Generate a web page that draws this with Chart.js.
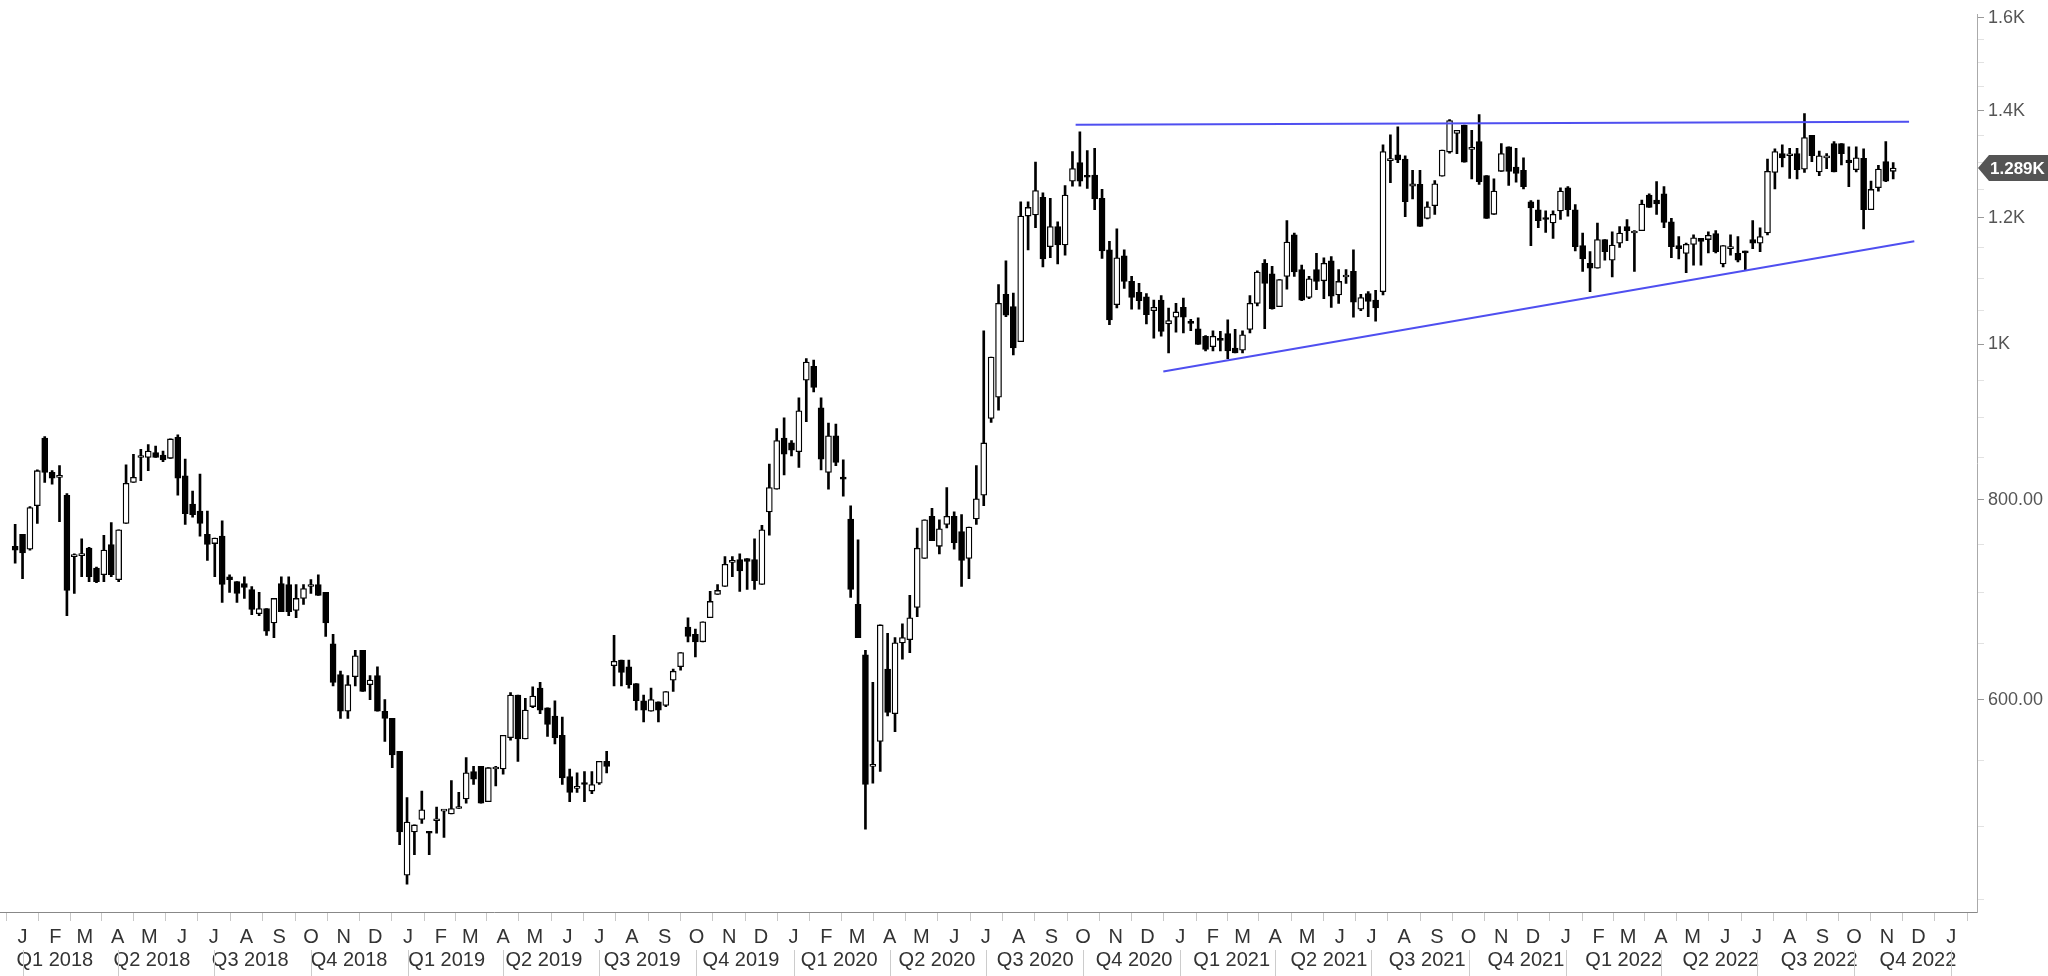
<!DOCTYPE html>
<html><head><meta charset="utf-8">
<script src="https://cdn.jsdelivr.net/npm/chart.js@4.4.1/dist/chart.umd.min.js"></script>
<style>html,body{margin:0;padding:0;background:#fff;overflow:hidden}canvas{display:block}</style>
</head><body>
<canvas id="c" width="2048" height="976"></canvas>
<script>
// Weekly candles, first week starting 2017-12-25
const firstWeek = "2017-12-25";
const open = [748,761,745,793,874,832,826,805,737,738,746,725,718,750,713,773,820,850,850,856,853,849,875,828,795,787,761,751,759,716,711,709,703,679,684,670,709,708,682,694,706,708,700,650,622,590,620,644,613,621,590,584,557,466,496,505,496,504,511,509,513,520,541,545,518,543,543,568,604,567,594,610,593,586,570,537,528,532,526,532,549,630,635,629,614,599,590,598,595,617,629,666,659,652,675,698,706,731,734,735,734,708,786,812,874,868,857,950,969,913,832,877,825,778,688,640,545,565,627,588,651,654,685,735,781,748,772,781,764,735,778,805,899,927,1075,1056,1004,1203,1205,1236,1151,1185,1154,1265,1299,1274,1276,1234,1146,1059,1136,1095,1078,1071,1050,1066,1030,1040,1055,1032,1023,1012,997,1007,1016,995,992,1022,1061,1124,1107,1056,1103,1171,1114,1070,1114,1096,1128,1074,1102,1111,1052,1076,1066,1079,1303,1314,1306,1256,1259,1199,1221,1274,1319,1355,1371,1324,1339,1275,1206,1283,1329,1291,1285,1228,1214,1198,1191,1212,1253,1214,1153,1124,1116,1163,1129,1157,1185,1174,1178,1240,1231,1242,1193,1153,1140,1155,1165,1163,1173,1123,1148,1140,1142,1163,1157,1174,1281,1316,1312,1316,1287,1351,1282,1308,1335,1335,1304,1286,1307,1214,1253,1301,1283];
const high = [772,761,792,835,876,834,840,807,740,756,747,726,760,774,766,841,854,860,866,864,858,873,878,848,810,830,787,757,776,718,711,716,706,700,684,694,716,716,708,708,713,718,700,659,625,621,644,644,621,629,600,584,557,521,501,526,496,514,512,534,525,552,545,545,544,545,570,606,604,601,611,615,593,599,585,543,540,541,541,549,557,658,635,635,614,604,610,598,607,627,642,675,664,671,701,708,737,737,740,735,756,771,842,886,900,871,926,980,978,926,893,892,847,793,755,644,615,668,660,656,669,697,768,777,790,777,814,786,783,769,840,1020,982,1090,1128,1077,1228,1228,1300,1244,1234,1193,1257,1320,1358,1322,1326,1250,1160,1181,1146,1103,1092,1076,1066,1073,1054,1061,1069,1037,1039,1013,1020,1019,1036,1022,1020,1073,1112,1130,1119,1098,1195,1174,1121,1103,1140,1133,1135,1114,1114,1146,1075,1079,1081,1333,1352,1368,1312,1285,1285,1228,1266,1323,1382,1361,1371,1361,1392,1275,1269,1335,1329,1326,1308,1230,1231,1212,1212,1253,1255,1223,1174,1143,1191,1163,1176,1185,1197,1178,1231,1242,1264,1255,1199,1168,1157,1171,1165,1176,1178,1153,1171,1168,1144,1195,1183,1306,1325,1333,1326,1326,1394,1351,1321,1316,1339,1335,1329,1329,1325,1265,1294,1339,1299];
const low = [730,714,744,773,820,818,775,677,699,716,711,710,711,716,711,773,820,822,834,850,845,849,805,772,780,759,733,716,690,700,690,694,678,677,658,656,681,677,675,688,699,697,657,612,584,584,612,607,600,590,565,544,487,460,480,502,480,495,492,509,513,517,531,517,518,530,539,566,549,567,593,588,569,563,531,518,525,518,524,531,540,612,612,610,591,581,590,581,594,607,626,652,638,652,675,698,706,716,701,703,703,708,760,812,829,852,838,895,934,835,812,840,804,695,656,498,532,541,586,573,636,642,676,735,754,740,768,745,706,714,772,793,894,910,1041,985,1004,1146,1183,1118,1133,1123,1137,1256,1256,1252,1214,1132,1029,1054,1084,1052,1052,1030,1009,1012,988,1018,1017,1020,1000,991,991,991,980,988,988,1017,1057,1023,1052,1056,1083,1103,1065,1068,1082,1068,1055,1061,1092,1040,1050,1041,1034,1074,1262,1299,1202,1233,1185,1198,1206,1274,1317,1316,1300,1269,1259,1199,1206,1283,1257,1263,1251,1153,1183,1175,1165,1197,1203,1144,1111,1079,1116,1129,1102,1150,1161,1111,1178,1218,1206,1183,1133,1131,1109,1121,1121,1141,1141,1118,1137,1126,1113,1148,1143,1171,1251,1291,1270,1269,1281,1301,1275,1288,1282,1295,1255,1282,1181,1214,1247,1264,1269];
const close = [744,741,791,834,832,825,827,702,739,739,716,711,744,718,766,819,826,851,858,850,847,873,825,784,783,773,750,757,708,713,699,705,683,684,662,694,681,681,694,704,707,697,670,615,590,613,639,607,617,590,584,554,496,503,501,512,495,505,512,513,514,540,535,517,544,544,570,604,567,591,603,591,579,568,536,525,529,531,531,549,545,634,624,613,599,591,600,591,607,625,642,657,652,671,691,702,729,732,722,732,712,766,814,871,854,859,909,975,940,848,877,844,824,703,656,531,546,668,589,651,656,675,746,777,754,767,781,752,733,769,801,868,982,1061,1043,995,1203,1218,1248,1131,1185,1154,1240,1288,1265,1272,1233,1144,1036,1133,1095,1070,1065,1044,1055,1019,1035,1048,1040,1031,1000,993,1012,1006,991,988,1014,1061,1110,1092,1053,1098,1159,1110,1066,1099,1095,1124,1072,1095,1104,1063,1070,1064,1054,1320,1305,1304,1228,1260,1185,1219,1260,1323,1380,1361,1300,1326,1264,1199,1247,1316,1283,1279,1255,1217,1195,1197,1206,1247,1214,1151,1131,1116,1163,1143,1154,1174,1178,1175,1224,1218,1224,1192,1151,1148,1155,1166,1160,1170,1143,1153,1151,1129,1141,1157,1168,1283,1320,1308,1313,1286,1347,1312,1312,1309,1282,1316,1299,1308,1214,1250,1287,1265,1289];
// Trend lines: [date, price]
const upperTrend = [["2020-09-24",1372],["2022-11-22",1378]];
const lowerTrend = [["2020-12-16",962],["2022-11-27",1160]];
const yMajorLabels = {600:"600.00",800:"800.00",1000:"1K",1200:"1.2K",1400:"1.4K",1600:"1.6K"};
const monthLetters = "JFMAMJJASOND";
const quarterLabels = ["Q1 2018","Q2 2018","Q3 2018","Q4 2018","Q1 2019","Q2 2019","Q3 2019","Q4 2019","Q1 2020","Q2 2020","Q3 2020","Q4 2020","Q1 2021","Q2 2021","Q3 2021","Q4 2021","Q1 2022","Q2 2022","Q3 2022","Q4 2022"];

const DAY = 864e5, T0 = Date.UTC(2018,0,1);
const dayOf = s => (Date.parse(s+"T00:00:00Z")-T0)/DAY;
const w0 = dayOf(firstWeek);
const xs = close.map((_,i)=> w0 + 7*i);
const XMIN=-6, XMAX=1835;

const up = close.map((c,i)=> c>=open[i]);
const bodies = close.map((c,i)=>({x:xs[i], y:[open[i],c]}));
const wicks = close.map((c,i)=>({x:xs[i], y:[low[i],high[i]]}));

const monthTicks=[];
for(let y=2018;y<=2023;y++)for(let m=0;m<12;m++){const d=(Date.UTC(y,m,1)-T0)/DAY; if(d<=XMAX) monthTicks.push({value:d,label:monthLetters[m]});}
const qBounds=[], qTicks=[];
quarterLabels.forEach((q,i)=>{const y=2018+Math.floor(i/4), m=(i%4)*3;
  const a=(Date.UTC(y,m,1)-T0)/DAY, b=(Date.UTC(y,m+3,1)-T0)/DAY;
  qBounds.push(a); if(i===quarterLabels.length-1) qBounds.push(b);
  qTicks.push({value:(a+b)/2,label:q});});

Chart.defaults.font.family = "'Liberation Sans', Arial, sans-serif";
const narrow = "'Liberation Sans Narrow','Liberation Sans', Arial, sans-serif";

const overlay = {
  id:'overlay',
  afterDraw(chart){
    const ctx=chart.ctx, x=chart.scales.x, xq=chart.scales.xq, y=chart.scales.y;
    ctx.save();
    ctx.strokeStyle='#cccccc'; ctx.lineWidth=1;
    qBounds.forEach(d=>{const px=Math.round(x.getPixelForValue(d))+0.5;
      if(px<x.right){ctx.beginPath();ctx.moveTo(px,xq.top+2);ctx.lineTo(px,xq.bottom);ctx.stroke();}});
    const last=close[close.length-1], py=y.getPixelForValue(last), L=y.left+1;
    ctx.fillStyle='#555555';
    ctx.beginPath(); ctx.moveTo(L,py); ctx.lineTo(L+11,py-13); ctx.lineTo(2048,py-13); ctx.lineTo(2048,py+13); ctx.lineTo(L+11,py+13); ctx.closePath(); ctx.fill();
    ctx.fillStyle='#ffffff'; ctx.font="bold 17px 'Liberation Sans', Arial"; ctx.textBaseline='middle'; ctx.textAlign='left';
    ctx.fillText((last/1000).toFixed(3)+'K', L+12, py+1);
    ctx.restore();
  }
};

new Chart(document.getElementById('c'),{
  data:{datasets:[
    {type:'bar', data:wicks, xAxisID:'x', yAxisID:'y', backgroundColor:'#000', borderWidth:0, barThickness:2, grouped:false, order:3},
    {type:'bar', data:bodies, xAxisID:'x', yAxisID:'y', backgroundColor:up.map(u=>u?'#ffffff':'#000000'), borderColor:'#000', borderWidth:1.3, borderSkipped:false, barThickness:6, minBarLength:2, grouped:false, order:2},
    {type:'line', data:upperTrend.map(p=>({x:dayOf(p[0]),y:p[1]})), xAxisID:'x', yAxisID:'y', borderColor:'#4f4ff0', borderWidth:2, pointRadius:0, order:1},
    {type:'line', data:lowerTrend.map(p=>({x:dayOf(p[0]),y:p[1]})), xAxisID:'x', yAxisID:'y', borderColor:'#4f4ff0', borderWidth:2, pointRadius:0, order:1}
  ]},
  options:{
    responsive:false, animation:false, devicePixelRatio:1,
    layout:{padding:{top:-12,left:-10}},
    plugins:{legend:{display:false}, tooltip:{enabled:false}},
    scales:{
      x:{type:'linear', position:'bottom', min:XMIN, max:XMAX,
        afterBuildTicks(s){s.ticks=monthTicks.map(t=>({value:t.value}));},
        afterFit(s){s.height=36;},
        ticks:{autoSkip:false, maxRotation:0, padding:4, color:'#333', font:{family:narrow,size:20},
          callback:(v)=>{const t=monthTicks.find(m=>m.value===v);return t?t.label:'';}},
        grid:{drawOnChartArea:false, tickLength:9, color:'#c8c8c8'},
        border:{display:true, color:'#888', dash:[2,2]}},
      xq:{type:'linear', position:'bottom', min:XMIN, max:XMAX,
        afterBuildTicks(s){s.ticks=qTicks.map(t=>({value:t.value}));},
        afterFit(s){s.height=28;},
        ticks:{autoSkip:false, maxRotation:0, padding:0, color:'#333', font:{family:narrow,size:20},
          callback:(v)=>{const t=qTicks.find(m=>m.value===v);return t?t.label:'';}},
        grid:{display:false, drawTicks:false}, border:{display:false}},
      y:{type:'logarithmic', position:'right', min:442, max:1607,
        afterBuildTicks(s){const t=[];for(let v=450;v<=1600;v+=50)t.push({value:v});s.ticks=t;},
        afterFit(s){s.width=71;},
        ticks:{autoSkip:false, padding:4, color:'#555', font:{size:18},
          callback:(v)=>yMajorLabels[v]||''},
        grid:{drawOnChartArea:false, tickLength:7, color:(c)=>yMajorLabels[c.tick&&c.tick.value]?'#999':'#e2e2e2'},
        border:{display:true, color:'#aaaaaa'}}
    }
  },
  plugins:[overlay]
});
</script>
</body></html>
